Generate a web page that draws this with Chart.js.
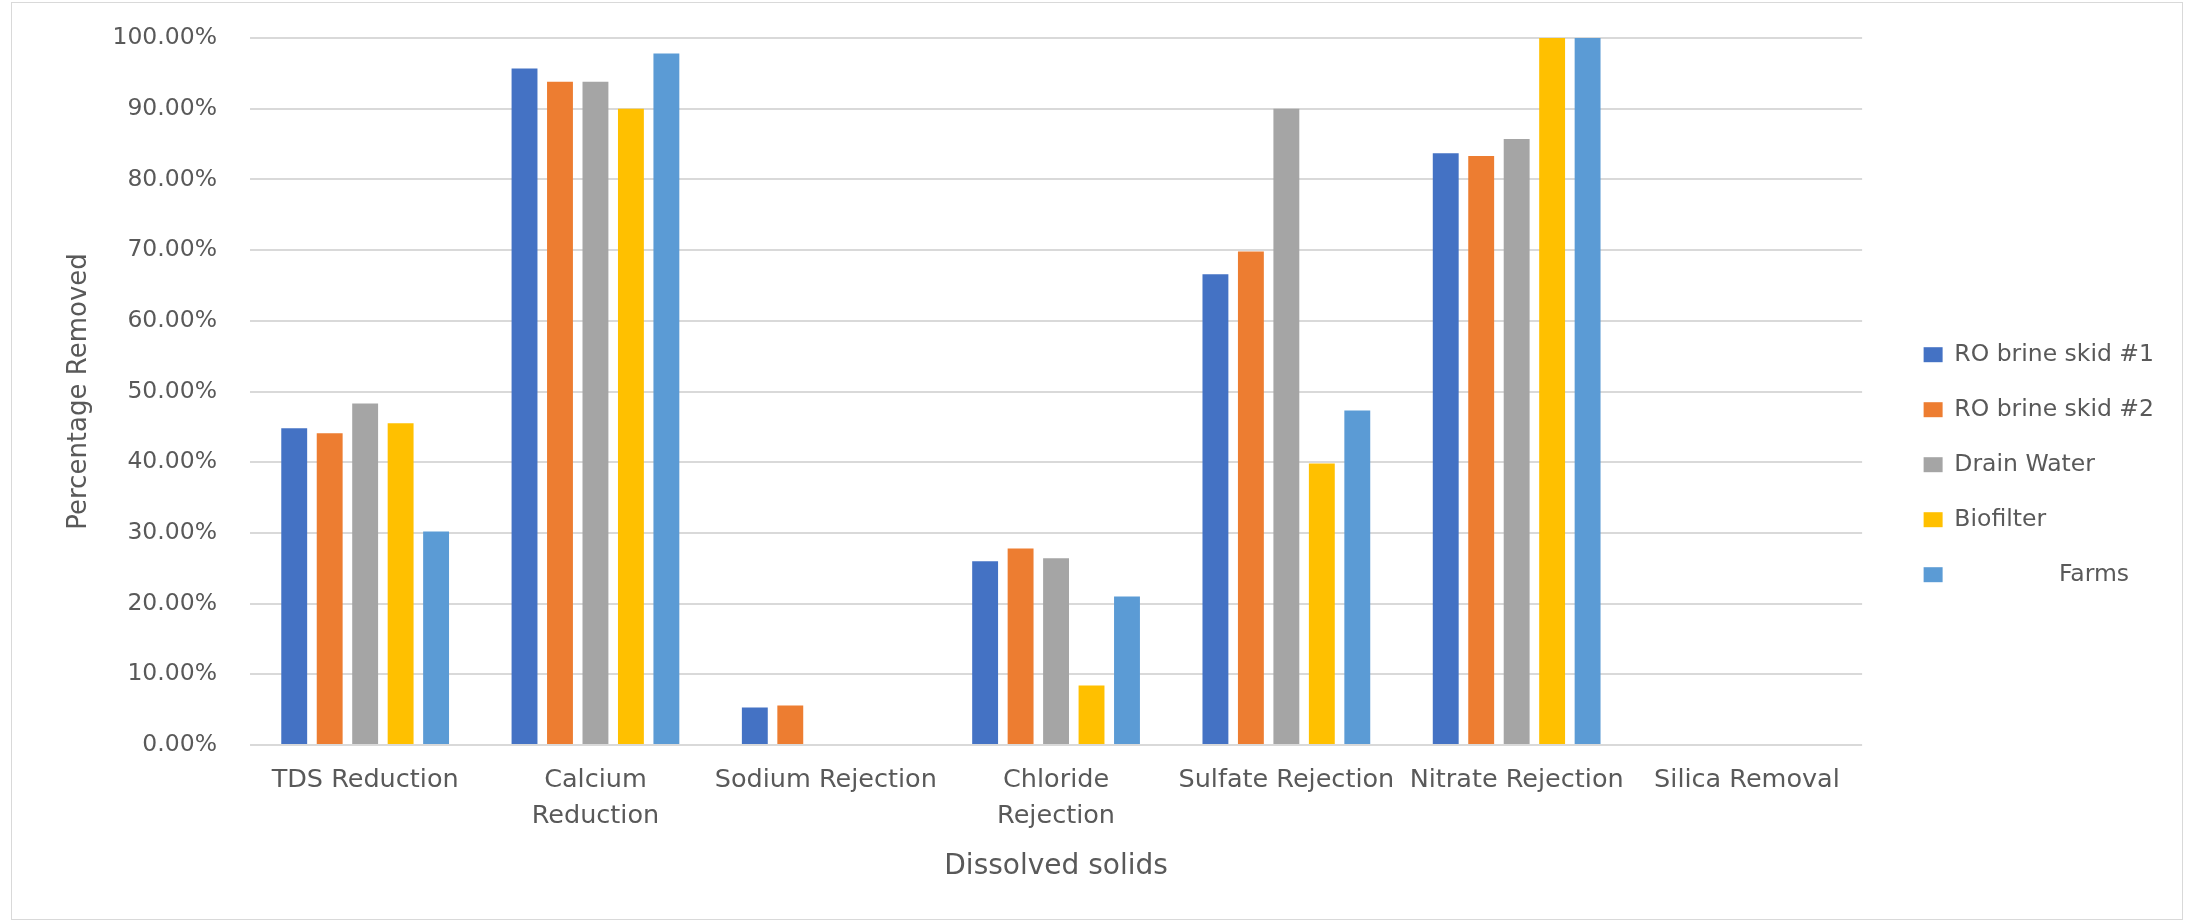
<!DOCTYPE html>
<html>
<head>
<meta charset="utf-8">
<title>Dissolved solids removal</title>
<script src="https://cdn.jsdelivr.net/npm/chart.js@4.4.1/dist/chart.umd.min.js"></script>
<style>
    body { margin: 0; background: #fff; }
    #wrap { position: relative; width: 2191px; height: 924px; }
    #frame {
        position: absolute; left: 11px; top: 2px; width: 2170px; height: 916px;
        border: 1px solid #d9d9d9; pointer-events: none;
    }
</style>
</head>
<body>
<div id="wrap">
    <canvas id="removalChart" width="2191" height="924"></canvas>
    <div id="frame"></div>
</div>
<script>
const categories = [
    'TDS Reduction',
    ['Calcium', 'Reduction'],
    'Sodium Rejection',
    ['Chloride', 'Rejection'],
    'Sulfate Rejection',
    'Nitrate Rejection',
    'Silica Removal'
];

// percentage removed per category
const roSkid1 = [44.8, 95.7, 5.3, 26.0, 66.6, 83.7, 0];
const roSkid2 = [44.1, 93.8, 5.6, 27.8, 69.8, 83.3, 0];
const drainWater = [48.3, 93.8, 0, 26.4, 90.0, 85.7, 0];
const biofilter = [45.5, 90.0, 0, 8.4, 39.8, 100, 0];
const farms = [30.2, 97.8, 0, 21.0, 47.3, 100, 0];

const seriesNames = ['RO brine skid #1', 'RO brine skid #2', 'Drain Water', 'Biofilter', '              Farms'];
const seriesColors = ['#4472C4', '#ED7D31', '#A5A5A5', '#FFC000', '#5B9BD5'];

const yMin = 0;
const yMax = 100;
const yStep = 10;

const textColor = '#595959';
const gridColor = '#d9d9d9';
const fontFamily = '"DejaVu Sans", sans-serif';

const datasets = [roSkid1, roSkid2, drainWater, biofilter, farms].map((values, i) => ({
    label: seriesNames[i],
    data: values,
    backgroundColor: seriesColors[i],
    borderWidth: 0,
    categoryPercentage: 0.77,
    barPercentage: 0.73
}));

new Chart(document.getElementById('removalChart'), {
    type: 'bar',
    data: {labels: categories, datasets: datasets},
    options: {
        responsive: false,
        animation: false,
        layout: {padding: {left: 40, top: 38, right: 27, bottom: 20}},
        plugins: {
            tooltip: {enabled: false},
            legend: {
                position: 'right',
                fullSize: false,
                align: 'center',
                title: {display: true, text: '', padding: {top: 0, bottom: 132}},
                labels: {
                    boxWidth: 19,
                    boxHeight: 15,
                    padding: 31.5,
                    color: textColor,
                    font: {family: fontFamily, size: 23.5}
                }
            }
        },
        scales: {
            x: {
                grid: {display: false, drawTicks: false},
                border: {display: false},
                ticks: {
                    color: textColor,
                    font: {family: fontFamily, size: 25.5, lineHeight: 1.41},
                    maxRotation: 0,
                    autoSkip: false,
                    padding: 17
                },
                title: {
                    display: true,
                    text: 'Dissolved solids',
                    color: textColor,
                    font: {family: fontFamily, size: 28},
                    padding: {top: 0, bottom: 20}
                },
                afterFit: (scale) => { scale.height = 159; }
            },
            y: {
                min: yMin,
                max: yMax,
                grid: {color: gridColor, lineWidth: 2, drawTicks: false},
                border: {display: false},
                ticks: {
                    stepSize: yStep,
                    color: textColor,
                    font: {family: fontFamily, size: 23.5},
                    padding: 33,
                    callback: (v) => v.toFixed(2) + '%'
                },
                title: {
                    display: true,
                    text: 'Percentage Removed',
                    color: textColor,
                    font: {family: fontFamily, size: 26},
                    padding: {top: 24, bottom: 0}
                },
                afterFit: (scale) => {
                    scale.width = 210;
                    // the layout padding already leaves room for the end labels
                    scale.paddingTop = 0;
                    scale.paddingBottom = 0;
                }
            },
            // empty spacer between plot and legend
            spacer: {
                type: 'linear',
                position: 'right',
                grid: {display: false},
                border: {display: false},
                ticks: {display: false},
                afterFit: (scale) => { scale.width = 30; }
            }
        }
    }
});
</script>
</body>
</html>
